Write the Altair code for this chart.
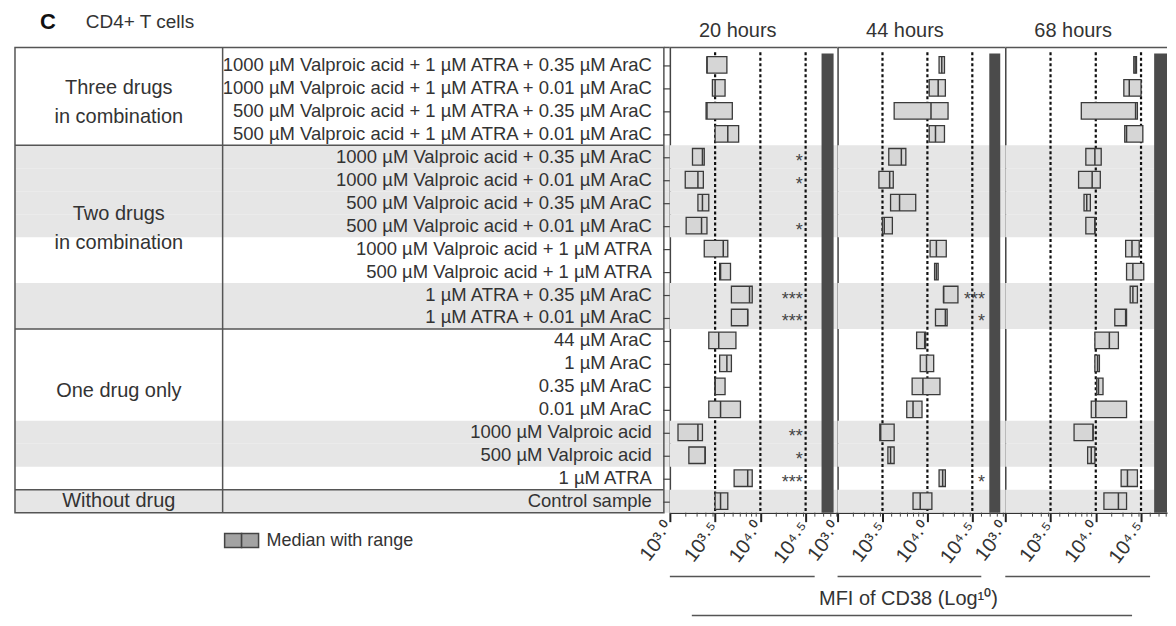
import altair as alt
import numpy as np
import pandas as pd

# ---------------- data ----------------
row_labels = [
    "1000 µM Valproic acid + 1 µM ATRA + 0.35 µM AraC",
    "1000 µM Valproic acid + 1 µM ATRA + 0.01 µM AraC",
    "500 µM Valproic acid + 1 µM ATRA + 0.35 µM AraC",
    "500 µM Valproic acid + 1 µM ATRA + 0.01 µM AraC",
    "1000 µM Valproic acid + 0.35 µM AraC",
    "1000 µM Valproic acid + 0.01 µM AraC",
    "500 µM Valproic acid + 0.35 µM AraC",
    "500 µM Valproic acid + 0.01 µM AraC",
    "1000 µM Valproic acid + 1 µM ATRA",
    "500 µM Valproic acid + 1 µM ATRA",
    "1 µM ATRA + 0.35 µM AraC",
    "1 µM ATRA + 0.01 µM AraC",
    "44 µM AraC",
    "1 µM AraC",
    "0.35 µM AraC",
    "0.01 µM AraC",
    "1000 µM Valproic acid",
    "500 µM Valproic acid",
    "1 µM ATRA",
    "Control sample",
]
group_labels = ["Three drugs\nin combination", "Two drugs\nin combination", "One drug only", "Without drug"]
group_sizes = [4, 8, 7, 1]
shaded = [0, 0, 0, 0, 1, 1, 1, 1, 0, 0, 1, 1, 0, 0, 0, 0, 1, 1, 0, 1]

hours = ["20 hours", "44 hours", "68 hours"]

# log10 of MFI of CD38: minimum, median, maximum
lo20 = [3.41, 3.47, 3.40, 3.50, 3.25, 3.17, 3.31, 3.18, 3.38, 3.55, 3.68, 3.68, 3.43, 3.55, 3.50, 3.43, 3.09, 3.21, 3.71, 3.50]
med20 = [3.41, 3.50, 3.41, 3.64, 3.36, 3.31, 3.36, 3.35, 3.59, 3.56, 3.88, 3.86, 3.54, 3.63, 3.50, 3.56, 3.31, 3.39, 3.86, 3.56]
hi20 = [3.63, 3.61, 3.69, 3.76, 3.38, 3.37, 3.43, 3.41, 3.64, 3.67, 3.91, 3.86, 3.73, 3.68, 3.61, 3.78, 3.36, 3.39, 3.91, 3.64]

lo44 = [4.13, 4.02, 3.63, 4.02, 3.57, 3.46, 3.59, 3.50, 4.03, 4.08, 4.18, 4.09, 3.88, 3.92, 3.83, 3.77, 3.47, 3.56, 4.13, 3.84]
med44 = [4.16, 4.12, 4.04, 4.09, 3.71, 3.58, 3.69, 3.52, 4.10, 4.10, 4.18, 4.20, 3.97, 3.99, 3.95, 3.84, 3.48, 3.59, 4.17, 3.92]
hi44 = [4.19, 4.20, 4.23, 4.19, 3.76, 3.62, 3.87, 3.61, 4.21, 4.12, 4.34, 4.22, 3.98, 4.07, 4.14, 3.94, 3.63, 3.63, 4.20, 4.05]

lo68 = [4.42, 4.31, 3.84, 4.32, 3.89, 3.81, 3.87, 3.89, 4.33, 4.34, 4.38, 4.21, 3.99, 3.99, 4.01, 3.95, 3.76, 3.91, 4.28, 4.09]
med68 = [4.435, 4.37, 4.44, 4.34, 3.99, 3.96, 3.90, 3.99, 4.40, 4.41, 4.41, 4.33, 4.15, 4.02, 4.03, 4.00, 3.97, 3.95, 4.35, 4.25]
hi68 = [4.45, 4.50, 4.46, 4.52, 4.06, 4.05, 3.94, 3.99, 4.48, 4.53, 4.46, 4.34, 4.25, 4.04, 4.08, 4.34, 3.97, 3.99, 4.46, 4.34]

stars20 = ["", "", "", "", "*", "*", "", "*", "", "", "***", "***", "", "", "", "", "**", "*", "***", ""]
stars44 = ["", "", "", "", "", "", "", "", "", "", "***", "*", "", "", "", "", "", "", "*", ""]
stars68 = [""] * 20

tick_logs = [3.0, 3.5, 4.0, 4.5]
tick_labels = ["10³·⁰", "10³·⁵", "10⁴·⁰", "10⁴·⁵"]
minor_mult = [1.5, 2, 2.5, 3, 4, 5, 6, 7, 8, 9]
x_title = "MFI of CD38 (Log¹⁰)"
legend_text = "Median with range"

# ---------------- layout / style ----------------
H = 466
TW = 656
PANEL_W = [168, 168, 162]
PANEL_MAXLOG = [4.853, 4.867, 4.787]
STAR_LOG = [4.467, 4.64, 4.64]
BAR_LOG = [(4.676, 4.809), (4.689, 4.811), (4.645, 4.787)]
ROW_DOMAIN = [-0.761, 19.5]
TXT = "#333333"
BAND = "#e6e6e6"
LINE = "#555555"
GROUP_NUDGE = [-11, -23, -18, 0]

major_vals = [10 ** v for v in tick_logs]
minor_vals = [m * 10 ** d for d in (3, 4) for m in minor_mult]

conds = []
for k in range(len(tick_logs) - 1):
    conds.append(f"datum.value < {10 ** (tick_logs[k] + 0.25):.3f} ? '{tick_labels[k]}' : ")
label_expr = "".join(conds) + f"'{tick_labels[-1]}'"

rows_df = pd.DataFrame({"row": list(range(len(row_labels))), "label": row_labels})
band_df = pd.DataFrame({"row": [i for i, s in enumerate(shaded) if s]})
one = pd.DataFrame({"k": [0]})

ys = alt.Scale(domain=ROW_DOMAIN, reverse=True, nice=False, zero=False)


def yt(field):
    return alt.Y(field, type="quantitative", scale=ys, axis=None)


# ---------------- table panel ----------------
tbl = []
tbl.append(
    alt.Chart(band_df)
    .transform_calculate(y0="datum.row - 0.5", y1="datum.row + 0.5")
    .mark_rect(color=BAND)
    .encode(x=alt.value(0), x2=alt.value(TW), y=yt("y0"), y2=alt.Y2("y1"))
)
tbl.append(
    alt.Chart(one)
    .mark_rect(fillOpacity=0, stroke=LINE, strokeWidth=1.5)
    .encode(x=alt.value(0), x2=alt.value(TW - 6), y=alt.value(0), y2=alt.value(H))
)
tbl.append(
    alt.Chart(one)
    .mark_rule(color=LINE, strokeWidth=1.5)
    .encode(x=alt.value(TW - 6), x2=alt.value(TW), y=alt.value(0))
)
tbl.append(
    alt.Chart(one)
    .mark_rule(color=LINE, strokeWidth=1.5)
    .encode(x=alt.value(208), y=alt.value(0), y2=alt.value(H))
)
bounds = list(np.cumsum(group_sizes)[:-1] - 0.5)
tbl.append(
    alt.Chart(pd.DataFrame({"b": bounds}))
    .mark_rule(color=LINE, strokeWidth=1.5)
    .encode(x=alt.value(0), x2=alt.value(TW - 6), y=yt("b"))
)
start = 0
for g, size, nudge in zip(group_labels, group_sizes, GROUP_NUDGE):
    center = start + (size - 1) / 2
    tbl.append(
        alt.Chart(pd.DataFrame({"c": [center], "t": [g]}))
        .mark_text(fontSize=20, color=TXT, align="center", baseline="middle", lineBreak="\n", lineHeight=29, dy=nudge)
        .encode(x=alt.value(104), y=yt("c"), text="t")
    )
    start += size
tbl.append(
    alt.Chart(rows_df)
    .mark_text(fontSize=18.5, color=TXT, align="right", baseline="middle")
    .encode(x=alt.value(638), y=yt("row"), text="label")
)
tbl.append(
    alt.Chart(one)
    .mark_text(fontSize=22, fontWeight="bold", color="#111", align="left", baseline="alphabetic")
    .encode(x=alt.value(25), y=alt.value(-18), text=alt.value("C"))
)
tbl.append(
    alt.Chart(one)
    .mark_text(fontSize=19, color=TXT, align="left", baseline="alphabetic")
    .encode(x=alt.value(71), y=alt.value(-19), text=alt.value("CD4+ T cells"))
)
for a, b in [(210, 227), (227, 244)]:
    tbl.append(
        alt.Chart(one)
        .mark_rect(fill="#a3a3a3", stroke="#444", strokeWidth=1.5)
        .encode(x=alt.value(a), x2=alt.value(b), y=alt.value(487), y2=alt.value(501))
    )
tbl.append(
    alt.Chart(one)
    .mark_text(fontSize=18, color=TXT, align="left", baseline="middle")
    .encode(x=alt.value(252), y=alt.value(494), text=alt.value(legend_text))
)
table = alt.layer(*tbl).properties(width=TW, height=H)

# ---------------- data panels ----------------
panel_vals = [(lo20, med20, hi20, stars20), (lo44, med44, hi44, stars44), (lo68, med68, hi68, stars68)]


def make_panel(i):
    W = PANEL_W[i]
    lo, med, hi, st = panel_vals[i]
    pdf = pd.DataFrame({
        "row": list(range(len(row_labels))),
        "lo": 10 ** np.array(lo),
        "med": 10 ** np.array(med),
        "hi": 10 ** np.array(hi),
        "star": st,
    })
    xs = alt.Scale(type="log", domain=[1000, 10 ** PANEL_MAXLOG[i]], nice=False)
    xaxis = alt.Axis(values=major_vals, labelExpr=label_expr, labelAngle=308, labelFontSize=20,
                     labelColor=TXT, labelPadding=3, labelFlush=False, labelOverlap=False,
                     labelBound=False, tickSize=9, tickWidth=2, tickColor="#222",
                     domainColor="#333", domainWidth=1.5, grid=False, title=None)
    if i == 0:
        yaxis = alt.Axis(values=list(range(len(row_labels))), labels=False, ticks=True, tickSize=7,
                         tickColor="#444", tickWidth=1.2, domainColor="#444", domainWidth=1.5,
                         grid=False, title=None)
    else:
        yaxis = alt.Axis(values=[0], labels=False, ticks=False, domainColor="#444", domainWidth=1.5,
                         grid=False, title=None)

    def X(f):
        return alt.X(f, type="quantitative", scale=xs, axis=xaxis)

    def XD(v):
        return alt.XDatum(v, type="quantitative", scale=xs, axis=xaxis)

    def Y(f):
        return alt.Y(f, type="quantitative", scale=ys, axis=yaxis)

    def YD(v):
        return alt.YDatum(v, type="quantitative", scale=ys, axis=yaxis)

    L = []
    L.append(
        alt.Chart(band_df)
        .transform_calculate(y0="datum.row - 0.5", y1="datum.row + 0.5")
        .mark_rect(color=BAND)
        .encode(x=alt.value(0), x2=alt.value(W), y=Y("y0"), y2=alt.Y2("y1"))
    )
    L.append(
        alt.Chart(one)
        .mark_rect(color="#4b4b4b")
        .encode(x=XD(10 ** BAR_LOG[i][0]), x2=alt.X2Datum(10 ** BAR_LOG[i][1]), y=YD(-0.5), y2=alt.Y2Datum(19.5))
    )
    L.append(
        alt.Chart(pd.DataFrame({"v": major_vals[1:]}))
        .mark_rule(color="#111", strokeWidth=2.2, strokeDash=[3, 2.5])
        .encode(x=X("v"), y=YD(-0.55), y2=alt.Y2Datum(19.5))
    )
    L.append(
        alt.Chart(pdf)
        .transform_calculate(y0="datum.row - 0.36", y1="datum.row + 0.36")
        .mark_rect(fill="#d6d6d6", stroke="#3a3a3a", strokeWidth=1.3)
        .encode(x=X("lo"), x2=alt.X2("hi"), y=Y("y0"), y2=alt.Y2("y1"))
    )
    L.append(
        alt.Chart(pdf)
        .transform_calculate(y0="datum.row - 0.36", y1="datum.row + 0.36")
        .mark_rule(color="#3a3a3a", strokeWidth=1.5)
        .encode(x=X("med"), y=Y("y0"), y2=alt.Y2("y1"))
    )
    if any(st):
        L.append(
            alt.Chart(pdf)
            .transform_filter("datum.star != ''")
            .mark_text(fontSize=18, color="#444", align="right", baseline="middle", dy=5)
            .encode(x=XD(10 ** STAR_LOG[i]), y=Y("row"), text="star")
        )
    L.append(
        alt.Chart(pd.DataFrame({"m": minor_vals}))
        .transform_filter(f"datum.m < {10 ** PANEL_MAXLOG[i]:.1f}")
        .mark_rule(color="#444", strokeWidth=1)
        .encode(x=X("m"), y=alt.value(H), y2=alt.value(H + 4))
    )
    L.append(
        alt.Chart(one)
        .mark_rule(color=LINE, strokeWidth=1.5)
        .encode(x=alt.value(0), x2=alt.value(W), y=alt.value(0))
    )
    L.append(
        alt.Chart(one)
        .mark_text(fontSize=20, color=TXT, align="center", baseline="middle")
        .encode(x=XD(10 ** 3.75), y=alt.value(-16), text=alt.value(hours[i]))
    )
    L.append(
        alt.Chart(one)
        .mark_rule(color=LINE, strokeWidth=1.5)
        .encode(x=XD(10 ** 3.0), x2=alt.X2Datum(10 ** 4.6), y=alt.value(530))
    )
    if i == 1:
        L.append(
            alt.Chart(one)
            .mark_text(fontSize=20, color=TXT, align="center", baseline="middle")
            .encode(x=alt.value(71), y=alt.value(553), text=alt.value(x_title))
        )
        L.append(
            alt.Chart(one)
            .mark_rule(color=LINE, strokeWidth=1.5)
            .encode(x=alt.value(-146), x2=alt.value(295), y=alt.value(569))
        )
    return alt.layer(*L).properties(width=W, height=H)


chart = (
    alt.hconcat(table, make_panel(0), make_panel(1), make_panel(2), spacing=0, bounds="flush")
    .properties(padding={"left": 6, "top": 3, "right": 0, "bottom": 0})
    .configure(font="Liberation Sans")
    .configure_view(stroke=None)
)

chart.save("out.html", embed_options={"renderer": "svg", "actions": False})
